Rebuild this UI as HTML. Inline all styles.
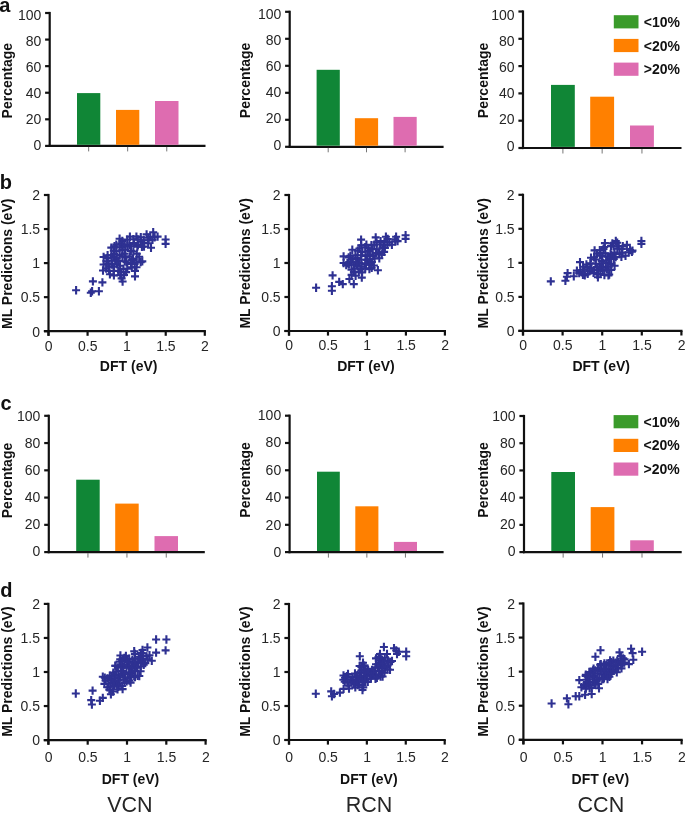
<!DOCTYPE html>
<html><head><meta charset="utf-8"><style>
html,body{margin:0;padding:0;background:#fff;}
svg{display:block;font-family:"Liberation Sans",sans-serif;will-change:transform;}
</style></head><body>
<svg width="685" height="813" viewBox="0 0 685 813">
<defs><path id="pl" d="M-4,-1.05H4V1.05H-4Z M-1.05,-4.2H1.05V4.2H-1.05Z" fill="#2E3192"/></defs>
<rect width="685" height="813" fill="#fff"/>
<line x1="49.70" y1="11.90" x2="49.70" y2="147.00" stroke="#111" stroke-width="2.2"/>
<line x1="48.60" y1="145.90" x2="205.50" y2="145.90" stroke="#111" stroke-width="2.2"/>
<line x1="45.10" y1="145.90" x2="49.70" y2="145.90" stroke="#111" stroke-width="2.2"/>
<text x="41.30" y="149.81" font-size="14" text-anchor="end" fill="#262626">0</text>
<line x1="45.10" y1="119.32" x2="49.70" y2="119.32" stroke="#111" stroke-width="2.2"/>
<text x="41.30" y="123.75" font-size="14" text-anchor="end" fill="#262626">20</text>
<line x1="45.10" y1="92.74" x2="49.70" y2="92.74" stroke="#111" stroke-width="2.2"/>
<text x="41.30" y="97.69" font-size="14" text-anchor="end" fill="#262626">40</text>
<line x1="45.10" y1="66.16" x2="49.70" y2="66.16" stroke="#111" stroke-width="2.2"/>
<text x="41.30" y="71.63" font-size="14" text-anchor="end" fill="#262626">60</text>
<line x1="45.10" y1="39.58" x2="49.70" y2="39.58" stroke="#111" stroke-width="2.2"/>
<text x="41.30" y="45.57" font-size="14" text-anchor="end" fill="#262626">80</text>
<line x1="45.10" y1="13.00" x2="49.70" y2="13.00" stroke="#111" stroke-width="2.2"/>
<text x="41.30" y="19.51" font-size="14" text-anchor="end" fill="#262626">100</text>
<rect x="77.00" y="93.10" width="23.30" height="51.70" fill="#108636"/>
<line x1="88.65" y1="146.90" x2="88.65" y2="151.40" stroke="#666" stroke-width="0.9"/>
<rect x="116.00" y="109.90" width="23.30" height="34.90" fill="#FF8000"/>
<line x1="127.65" y1="146.90" x2="127.65" y2="151.40" stroke="#666" stroke-width="0.9"/>
<rect x="155.00" y="101.00" width="23.50" height="43.80" fill="#DE6CB0"/>
<line x1="166.75" y1="146.90" x2="166.75" y2="151.40" stroke="#666" stroke-width="0.9"/>
<text x="12.00" y="80.70" font-size="14" text-anchor="middle" font-weight="bold" transform="rotate(-90 12.00 80.70)" fill="#111">Percentage</text>
<line x1="289.70" y1="10.70" x2="289.70" y2="147.90" stroke="#111" stroke-width="2.2"/>
<line x1="288.60" y1="146.80" x2="443.60" y2="146.80" stroke="#111" stroke-width="2.2"/>
<line x1="285.10" y1="146.80" x2="289.70" y2="146.80" stroke="#111" stroke-width="2.2"/>
<text x="281.30" y="149.51" font-size="14" text-anchor="end" fill="#262626">0</text>
<line x1="285.10" y1="119.80" x2="289.70" y2="119.80" stroke="#111" stroke-width="2.2"/>
<text x="281.30" y="123.37" font-size="14" text-anchor="end" fill="#262626">20</text>
<line x1="285.10" y1="92.80" x2="289.70" y2="92.80" stroke="#111" stroke-width="2.2"/>
<text x="281.30" y="97.23" font-size="14" text-anchor="end" fill="#262626">40</text>
<line x1="285.10" y1="65.80" x2="289.70" y2="65.80" stroke="#111" stroke-width="2.2"/>
<text x="281.30" y="71.09" font-size="14" text-anchor="end" fill="#262626">60</text>
<line x1="285.10" y1="38.80" x2="289.70" y2="38.80" stroke="#111" stroke-width="2.2"/>
<text x="281.30" y="44.95" font-size="14" text-anchor="end" fill="#262626">80</text>
<line x1="285.10" y1="11.80" x2="289.70" y2="11.80" stroke="#111" stroke-width="2.2"/>
<text x="281.30" y="18.81" font-size="14" text-anchor="end" fill="#262626">100</text>
<rect x="316.60" y="69.80" width="23.20" height="75.90" fill="#108636"/>
<line x1="328.20" y1="147.80" x2="328.20" y2="152.30" stroke="#666" stroke-width="0.9"/>
<rect x="354.90" y="118.20" width="23.20" height="27.50" fill="#FF8000"/>
<line x1="366.50" y1="147.80" x2="366.50" y2="152.30" stroke="#666" stroke-width="0.9"/>
<rect x="393.50" y="116.90" width="23.20" height="28.80" fill="#DE6CB0"/>
<line x1="405.10" y1="147.80" x2="405.10" y2="152.30" stroke="#666" stroke-width="0.9"/>
<text x="250.00" y="80.45" font-size="14" text-anchor="middle" font-weight="bold" transform="rotate(-90 250.00 80.45)" fill="#111">Percentage</text>
<line x1="523.00" y1="10.40" x2="523.00" y2="149.10" stroke="#111" stroke-width="2.2"/>
<line x1="521.90" y1="148.00" x2="681.50" y2="148.00" stroke="#111" stroke-width="2.2"/>
<line x1="518.40" y1="148.00" x2="523.00" y2="148.00" stroke="#111" stroke-width="2.2"/>
<text x="514.60" y="150.61" font-size="14" text-anchor="end" fill="#262626">0</text>
<line x1="518.40" y1="120.70" x2="523.00" y2="120.70" stroke="#111" stroke-width="2.2"/>
<text x="514.60" y="124.39" font-size="14" text-anchor="end" fill="#262626">20</text>
<line x1="518.40" y1="93.40" x2="523.00" y2="93.40" stroke="#111" stroke-width="2.2"/>
<text x="514.60" y="98.17" font-size="14" text-anchor="end" fill="#262626">40</text>
<line x1="518.40" y1="66.10" x2="523.00" y2="66.10" stroke="#111" stroke-width="2.2"/>
<text x="514.60" y="71.95" font-size="14" text-anchor="end" fill="#262626">60</text>
<line x1="518.40" y1="38.80" x2="523.00" y2="38.80" stroke="#111" stroke-width="2.2"/>
<text x="514.60" y="45.73" font-size="14" text-anchor="end" fill="#262626">80</text>
<line x1="518.40" y1="11.50" x2="523.00" y2="11.50" stroke="#111" stroke-width="2.2"/>
<text x="514.60" y="19.51" font-size="14" text-anchor="end" fill="#262626">100</text>
<rect x="551.00" y="84.90" width="23.80" height="62.00" fill="#108636"/>
<line x1="562.90" y1="149.00" x2="562.90" y2="153.50" stroke="#666" stroke-width="0.9"/>
<rect x="590.20" y="96.70" width="23.90" height="50.20" fill="#FF8000"/>
<line x1="602.15" y1="149.00" x2="602.15" y2="153.50" stroke="#666" stroke-width="0.9"/>
<rect x="630.00" y="125.50" width="23.90" height="21.40" fill="#DE6CB0"/>
<line x1="641.95" y1="149.00" x2="641.95" y2="153.50" stroke="#666" stroke-width="0.9"/>
<text x="488.00" y="80.45" font-size="14" text-anchor="middle" font-weight="bold" transform="rotate(-90 488.00 80.45)" fill="#111">Percentage</text>
<rect x="613.80" y="15.20" width="24.70" height="13.20" fill="#3A9B2A"/>
<text x="643.80" y="26.81" font-size="14" text-anchor="start" font-weight="bold" fill="#111">&lt;10%</text>
<rect x="613.80" y="38.90" width="24.70" height="13.20" fill="#FF8000"/>
<text x="643.80" y="50.51" font-size="14" text-anchor="start" font-weight="bold" fill="#111">&lt;20%</text>
<rect x="613.80" y="62.60" width="24.70" height="13.20" fill="#DE6CB0"/>
<text x="643.80" y="74.21" font-size="14" text-anchor="start" font-weight="bold" fill="#111">&gt;20%</text>
<line x1="48.80" y1="414.70" x2="48.80" y2="553.20" stroke="#111" stroke-width="2.2"/>
<line x1="47.70" y1="552.10" x2="204.80" y2="552.10" stroke="#111" stroke-width="2.2"/>
<line x1="44.20" y1="552.10" x2="48.80" y2="552.10" stroke="#111" stroke-width="2.2"/>
<text x="40.40" y="556.21" font-size="14" text-anchor="end" fill="#262626">0</text>
<line x1="44.20" y1="524.84" x2="48.80" y2="524.84" stroke="#111" stroke-width="2.2"/>
<text x="40.40" y="529.11" font-size="14" text-anchor="end" fill="#262626">20</text>
<line x1="44.20" y1="497.58" x2="48.80" y2="497.58" stroke="#111" stroke-width="2.2"/>
<text x="40.40" y="502.01" font-size="14" text-anchor="end" fill="#262626">40</text>
<line x1="44.20" y1="470.32" x2="48.80" y2="470.32" stroke="#111" stroke-width="2.2"/>
<text x="40.40" y="474.91" font-size="14" text-anchor="end" fill="#262626">60</text>
<line x1="44.20" y1="443.06" x2="48.80" y2="443.06" stroke="#111" stroke-width="2.2"/>
<text x="40.40" y="447.81" font-size="14" text-anchor="end" fill="#262626">80</text>
<line x1="44.20" y1="415.80" x2="48.80" y2="415.80" stroke="#111" stroke-width="2.2"/>
<text x="40.40" y="420.71" font-size="14" text-anchor="end" fill="#262626">100</text>
<rect x="76.20" y="479.70" width="23.50" height="71.30" fill="#108636"/>
<line x1="87.95" y1="553.10" x2="87.95" y2="557.60" stroke="#666" stroke-width="0.9"/>
<rect x="115.20" y="503.60" width="23.50" height="47.40" fill="#FF8000"/>
<line x1="126.95" y1="553.10" x2="126.95" y2="557.60" stroke="#666" stroke-width="0.9"/>
<rect x="154.50" y="536.10" width="23.50" height="14.90" fill="#DE6CB0"/>
<line x1="166.25" y1="553.10" x2="166.25" y2="557.60" stroke="#666" stroke-width="0.9"/>
<text x="12.00" y="480.50" font-size="14" text-anchor="middle" font-weight="bold" transform="rotate(-90 12.00 480.50)" fill="#111">Percentage</text>
<line x1="289.60" y1="414.60" x2="289.60" y2="553.20" stroke="#111" stroke-width="2.2"/>
<line x1="288.50" y1="552.10" x2="443.60" y2="552.10" stroke="#111" stroke-width="2.2"/>
<line x1="285.00" y1="552.10" x2="289.60" y2="552.10" stroke="#111" stroke-width="2.2"/>
<text x="281.20" y="557.11" font-size="14" text-anchor="end" fill="#262626">0</text>
<line x1="285.00" y1="524.82" x2="289.60" y2="524.82" stroke="#111" stroke-width="2.2"/>
<text x="281.20" y="529.67" font-size="14" text-anchor="end" fill="#262626">20</text>
<line x1="285.00" y1="497.54" x2="289.60" y2="497.54" stroke="#111" stroke-width="2.2"/>
<text x="281.20" y="502.23" font-size="14" text-anchor="end" fill="#262626">40</text>
<line x1="285.00" y1="470.26" x2="289.60" y2="470.26" stroke="#111" stroke-width="2.2"/>
<text x="281.20" y="474.79" font-size="14" text-anchor="end" fill="#262626">60</text>
<line x1="285.00" y1="442.98" x2="289.60" y2="442.98" stroke="#111" stroke-width="2.2"/>
<text x="281.20" y="447.35" font-size="14" text-anchor="end" fill="#262626">80</text>
<line x1="285.00" y1="415.70" x2="289.60" y2="415.70" stroke="#111" stroke-width="2.2"/>
<text x="281.20" y="419.91" font-size="14" text-anchor="end" fill="#262626">100</text>
<rect x="317.00" y="471.70" width="22.80" height="79.30" fill="#108636"/>
<line x1="328.40" y1="553.10" x2="328.40" y2="557.60" stroke="#666" stroke-width="0.9"/>
<rect x="355.30" y="506.30" width="23.10" height="44.70" fill="#FF8000"/>
<line x1="366.85" y1="553.10" x2="366.85" y2="557.60" stroke="#666" stroke-width="0.9"/>
<rect x="393.90" y="541.90" width="23.10" height="9.10" fill="#DE6CB0"/>
<line x1="405.45" y1="553.10" x2="405.45" y2="557.60" stroke="#666" stroke-width="0.9"/>
<text x="250.00" y="479.90" font-size="14" text-anchor="middle" font-weight="bold" transform="rotate(-90 250.00 479.90)" fill="#111">Percentage</text>
<line x1="524.00" y1="414.90" x2="524.00" y2="553.20" stroke="#111" stroke-width="2.2"/>
<line x1="522.90" y1="552.10" x2="681.70" y2="552.10" stroke="#111" stroke-width="2.2"/>
<line x1="519.40" y1="552.10" x2="524.00" y2="552.10" stroke="#111" stroke-width="2.2"/>
<text x="515.60" y="555.91" font-size="14" text-anchor="end" fill="#262626">0</text>
<line x1="519.40" y1="524.88" x2="524.00" y2="524.88" stroke="#111" stroke-width="2.2"/>
<text x="515.60" y="528.97" font-size="14" text-anchor="end" fill="#262626">20</text>
<line x1="519.40" y1="497.66" x2="524.00" y2="497.66" stroke="#111" stroke-width="2.2"/>
<text x="515.60" y="502.03" font-size="14" text-anchor="end" fill="#262626">40</text>
<line x1="519.40" y1="470.44" x2="524.00" y2="470.44" stroke="#111" stroke-width="2.2"/>
<text x="515.60" y="475.09" font-size="14" text-anchor="end" fill="#262626">60</text>
<line x1="519.40" y1="443.22" x2="524.00" y2="443.22" stroke="#111" stroke-width="2.2"/>
<text x="515.60" y="448.15" font-size="14" text-anchor="end" fill="#262626">80</text>
<line x1="519.40" y1="416.00" x2="524.00" y2="416.00" stroke="#111" stroke-width="2.2"/>
<text x="515.60" y="421.21" font-size="14" text-anchor="end" fill="#262626">100</text>
<rect x="551.30" y="472.00" width="23.70" height="79.00" fill="#108636"/>
<line x1="563.15" y1="553.10" x2="563.15" y2="557.60" stroke="#666" stroke-width="0.9"/>
<rect x="590.70" y="507.10" width="23.70" height="43.90" fill="#FF8000"/>
<line x1="602.55" y1="553.10" x2="602.55" y2="557.60" stroke="#666" stroke-width="0.9"/>
<rect x="630.20" y="540.30" width="23.60" height="10.70" fill="#DE6CB0"/>
<line x1="642.00" y1="553.10" x2="642.00" y2="557.60" stroke="#666" stroke-width="0.9"/>
<text x="488.00" y="479.90" font-size="14" text-anchor="middle" font-weight="bold" transform="rotate(-90 488.00 479.90)" fill="#111">Percentage</text>
<rect x="613.60" y="415.10" width="24.70" height="13.20" fill="#3A9B2A"/>
<text x="643.60" y="426.71" font-size="14" text-anchor="start" font-weight="bold" fill="#111">&lt;10%</text>
<rect x="613.60" y="438.80" width="24.70" height="13.20" fill="#FF8000"/>
<text x="643.60" y="450.41" font-size="14" text-anchor="start" font-weight="bold" fill="#111">&lt;20%</text>
<rect x="613.60" y="462.50" width="24.70" height="13.20" fill="#DE6CB0"/>
<text x="643.60" y="474.11" font-size="14" text-anchor="start" font-weight="bold" fill="#111">&gt;20%</text>
<line x1="48.50" y1="193.90" x2="48.50" y2="335.80" stroke="#111" stroke-width="2.2"/>
<line x1="43.90" y1="331.20" x2="205.90" y2="331.20" stroke="#111" stroke-width="2.2"/>
<line x1="43.90" y1="331.20" x2="48.50" y2="331.20" stroke="#111" stroke-width="2.2"/>
<text x="40.10" y="336.51" font-size="14" text-anchor="end" fill="#262626">0</text>
<line x1="48.50" y1="331.20" x2="48.50" y2="335.80" stroke="#111" stroke-width="2.2"/>
<text x="48.70" y="350.52" font-size="14" text-anchor="middle" fill="#262626">0</text>
<line x1="43.90" y1="297.15" x2="48.50" y2="297.15" stroke="#111" stroke-width="2.2"/>
<text x="40.10" y="302.46" font-size="14" text-anchor="end" fill="#262626">0.5</text>
<line x1="87.58" y1="331.20" x2="87.58" y2="335.80" stroke="#111" stroke-width="2.2"/>
<text x="87.78" y="350.52" font-size="14" text-anchor="middle" fill="#262626">0.5</text>
<line x1="43.90" y1="263.10" x2="48.50" y2="263.10" stroke="#111" stroke-width="2.2"/>
<text x="40.10" y="268.41" font-size="14" text-anchor="end" fill="#262626">1</text>
<line x1="126.65" y1="331.20" x2="126.65" y2="335.80" stroke="#111" stroke-width="2.2"/>
<text x="126.85" y="350.52" font-size="14" text-anchor="middle" fill="#262626">1</text>
<line x1="43.90" y1="229.05" x2="48.50" y2="229.05" stroke="#111" stroke-width="2.2"/>
<text x="40.10" y="234.36" font-size="14" text-anchor="end" fill="#262626">1.5</text>
<line x1="165.73" y1="331.20" x2="165.73" y2="335.80" stroke="#111" stroke-width="2.2"/>
<text x="165.93" y="350.52" font-size="14" text-anchor="middle" fill="#262626">1.5</text>
<line x1="43.90" y1="195.00" x2="48.50" y2="195.00" stroke="#111" stroke-width="2.2"/>
<text x="40.10" y="200.31" font-size="14" text-anchor="end" fill="#262626">2</text>
<line x1="204.80" y1="331.20" x2="204.80" y2="335.80" stroke="#111" stroke-width="2.2"/>
<text x="205.00" y="350.52" font-size="14" text-anchor="middle" fill="#262626">2</text>
<text x="12.00" y="263.80" font-size="14" text-anchor="middle" font-weight="bold" transform="rotate(-90 12.00 263.80)" fill="#111">ML Predictions (eV)</text>
<text x="128.65" y="371.40" font-size="14" text-anchor="middle" font-weight="bold" fill="#111">DFT (eV)</text>
<use href="#pl" x="76.1" y="290.3"/>
<use href="#pl" x="92.9" y="281.4"/>
<use href="#pl" x="102.4" y="282.4"/>
<use href="#pl" x="90.8" y="292.7"/>
<use href="#pl" x="92.1" y="291.2"/>
<use href="#pl" x="98.9" y="291.2"/>
<use href="#pl" x="122.6" y="281.5"/>
<use href="#pl" x="135.0" y="276.4"/>
<use href="#pl" x="119.6" y="238.8"/>
<use href="#pl" x="165.6" y="239.5"/>
<use href="#pl" x="165.6" y="243.9"/>
<use href="#pl" x="153.2" y="232.2"/>
<use href="#pl" x="157.6" y="236.6"/>
<use href="#pl" x="151.0" y="247.8"/>
<use href="#pl" x="142.3" y="261.4"/>
<use href="#pl" x="103.6" y="257.0"/>
<use href="#pl" x="129.9" y="236.6"/>
<use href="#pl" x="136.4" y="236.6"/>
<use href="#pl" x="140.8" y="237.3"/>
<use href="#pl" x="146.6" y="234.4"/>
<use href="#pl" x="148.3" y="237.7"/>
<use href="#pl" x="150.3" y="237.0"/>
<use href="#pl" x="154.6" y="237.3"/>
<use href="#pl" x="122.3" y="240.9"/>
<use href="#pl" x="127.2" y="239.6"/>
<use href="#pl" x="133.4" y="239.2"/>
<use href="#pl" x="137.7" y="239.4"/>
<use href="#pl" x="141.1" y="241.4"/>
<use href="#pl" x="143.7" y="240.2"/>
<use href="#pl" x="148.4" y="240.2"/>
<use href="#pl" x="152.5" y="239.7"/>
<use href="#pl" x="116.3" y="244.6"/>
<use href="#pl" x="121.2" y="243.2"/>
<use href="#pl" x="124.7" y="244.5"/>
<use href="#pl" x="129.4" y="244.7"/>
<use href="#pl" x="134.1" y="243.1"/>
<use href="#pl" x="137.9" y="245.1"/>
<use href="#pl" x="143.3" y="243.1"/>
<use href="#pl" x="148.2" y="243.2"/>
<use href="#pl" x="111.3" y="247.6"/>
<use href="#pl" x="114.5" y="246.2"/>
<use href="#pl" x="119.8" y="247.4"/>
<use href="#pl" x="122.7" y="246.4"/>
<use href="#pl" x="127.5" y="246.1"/>
<use href="#pl" x="131.1" y="246.2"/>
<use href="#pl" x="137.4" y="246.6"/>
<use href="#pl" x="141.9" y="246.8"/>
<use href="#pl" x="144.0" y="246.6"/>
<use href="#pl" x="113.8" y="250.6"/>
<use href="#pl" x="116.3" y="251.2"/>
<use href="#pl" x="122.2" y="250.0"/>
<use href="#pl" x="125.4" y="249.8"/>
<use href="#pl" x="130.9" y="250.9"/>
<use href="#pl" x="133.4" y="251.5"/>
<use href="#pl" x="107.6" y="255.2"/>
<use href="#pl" x="111.4" y="255.4"/>
<use href="#pl" x="114.2" y="253.9"/>
<use href="#pl" x="119.6" y="255.0"/>
<use href="#pl" x="124.4" y="253.7"/>
<use href="#pl" x="136.8" y="253.8"/>
<use href="#pl" x="107.5" y="258.1"/>
<use href="#pl" x="113.8" y="257.1"/>
<use href="#pl" x="116.6" y="258.8"/>
<use href="#pl" x="122.5" y="256.7"/>
<use href="#pl" x="125.5" y="257.3"/>
<use href="#pl" x="129.6" y="256.4"/>
<use href="#pl" x="133.0" y="258.5"/>
<use href="#pl" x="139.2" y="256.8"/>
<use href="#pl" x="106.5" y="261.2"/>
<use href="#pl" x="111.7" y="260.7"/>
<use href="#pl" x="115.2" y="260.5"/>
<use href="#pl" x="118.3" y="260.9"/>
<use href="#pl" x="124.8" y="261.3"/>
<use href="#pl" x="126.5" y="262.2"/>
<use href="#pl" x="132.1" y="260.0"/>
<use href="#pl" x="136.8" y="262.2"/>
<use href="#pl" x="140.7" y="262.1"/>
<use href="#pl" x="103.6" y="264.5"/>
<use href="#pl" x="108.2" y="263.5"/>
<use href="#pl" x="112.0" y="264.5"/>
<use href="#pl" x="116.8" y="264.2"/>
<use href="#pl" x="120.1" y="265.7"/>
<use href="#pl" x="131.0" y="264.0"/>
<use href="#pl" x="134.6" y="264.0"/>
<use href="#pl" x="106.2" y="268.6"/>
<use href="#pl" x="109.3" y="266.6"/>
<use href="#pl" x="114.0" y="266.8"/>
<use href="#pl" x="123.4" y="268.9"/>
<use href="#pl" x="127.3" y="268.8"/>
<use href="#pl" x="131.8" y="267.4"/>
<use href="#pl" x="136.5" y="267.2"/>
<use href="#pl" x="103.0" y="270.5"/>
<use href="#pl" x="109.1" y="270.9"/>
<use href="#pl" x="113.6" y="271.0"/>
<use href="#pl" x="118.2" y="270.7"/>
<use href="#pl" x="120.9" y="272.2"/>
<use href="#pl" x="126.1" y="272.1"/>
<use href="#pl" x="135.0" y="270.9"/>
<use href="#pl" x="109.9" y="274.3"/>
<use href="#pl" x="113.9" y="275.4"/>
<use href="#pl" x="120.2" y="275.2"/>
<use href="#pl" x="124.0" y="274.9"/>
<use href="#pl" x="121.6" y="278.4"/>
<line x1="289.00" y1="193.90" x2="289.00" y2="335.60" stroke="#111" stroke-width="2.2"/>
<line x1="284.40" y1="331.00" x2="446.00" y2="331.00" stroke="#111" stroke-width="2.2"/>
<line x1="284.40" y1="331.00" x2="289.00" y2="331.00" stroke="#111" stroke-width="2.2"/>
<text x="280.60" y="336.31" font-size="14" text-anchor="end" fill="#262626">0</text>
<line x1="289.00" y1="331.00" x2="289.00" y2="335.60" stroke="#111" stroke-width="2.2"/>
<text x="289.20" y="350.32" font-size="14" text-anchor="middle" fill="#262626">0</text>
<line x1="284.40" y1="297.00" x2="289.00" y2="297.00" stroke="#111" stroke-width="2.2"/>
<text x="280.60" y="302.31" font-size="14" text-anchor="end" fill="#262626">0.5</text>
<line x1="327.98" y1="331.00" x2="327.98" y2="335.60" stroke="#111" stroke-width="2.2"/>
<text x="328.18" y="350.32" font-size="14" text-anchor="middle" fill="#262626">0.5</text>
<line x1="284.40" y1="263.00" x2="289.00" y2="263.00" stroke="#111" stroke-width="2.2"/>
<text x="280.60" y="268.31" font-size="14" text-anchor="end" fill="#262626">1</text>
<line x1="366.95" y1="331.00" x2="366.95" y2="335.60" stroke="#111" stroke-width="2.2"/>
<text x="367.15" y="350.32" font-size="14" text-anchor="middle" fill="#262626">1</text>
<line x1="284.40" y1="229.00" x2="289.00" y2="229.00" stroke="#111" stroke-width="2.2"/>
<text x="280.60" y="234.31" font-size="14" text-anchor="end" fill="#262626">1.5</text>
<line x1="405.92" y1="331.00" x2="405.92" y2="335.60" stroke="#111" stroke-width="2.2"/>
<text x="406.12" y="350.32" font-size="14" text-anchor="middle" fill="#262626">1.5</text>
<line x1="284.40" y1="195.00" x2="289.00" y2="195.00" stroke="#111" stroke-width="2.2"/>
<text x="280.60" y="200.31" font-size="14" text-anchor="end" fill="#262626">2</text>
<line x1="444.90" y1="331.00" x2="444.90" y2="335.60" stroke="#111" stroke-width="2.2"/>
<text x="445.10" y="350.32" font-size="14" text-anchor="middle" fill="#262626">2</text>
<text x="250.00" y="263.35" font-size="14" text-anchor="middle" font-weight="bold" transform="rotate(-90 250.00 263.35)" fill="#111">ML Predictions (eV)</text>
<text x="365.95" y="371.20" font-size="14" text-anchor="middle" font-weight="bold" fill="#111">DFT (eV)</text>
<use href="#pl" x="316.1" y="287.8"/>
<use href="#pl" x="331.9" y="286.3"/>
<use href="#pl" x="331.9" y="290.7"/>
<use href="#pl" x="332.6" y="275.4"/>
<use href="#pl" x="339.2" y="281.9"/>
<use href="#pl" x="342.8" y="284.1"/>
<use href="#pl" x="353.8" y="284.1"/>
<use href="#pl" x="349.4" y="279.0"/>
<use href="#pl" x="361.1" y="239.6"/>
<use href="#pl" x="375.7" y="237.4"/>
<use href="#pl" x="385.9" y="236.7"/>
<use href="#pl" x="396.1" y="236.7"/>
<use href="#pl" x="405.6" y="235.2"/>
<use href="#pl" x="405.6" y="238.9"/>
<use href="#pl" x="397.6" y="241.1"/>
<use href="#pl" x="377.9" y="270.3"/>
<use href="#pl" x="361.8" y="277.6"/>
<use href="#pl" x="343.6" y="256.4"/>
<use href="#pl" x="343.6" y="263.0"/>
<use href="#pl" x="352.3" y="249.8"/>
<use href="#pl" x="387.7" y="239.0"/>
<use href="#pl" x="395.3" y="239.2"/>
<use href="#pl" x="376.6" y="242.4"/>
<use href="#pl" x="380.6" y="241.1"/>
<use href="#pl" x="384.6" y="242.0"/>
<use href="#pl" x="389.5" y="242.2"/>
<use href="#pl" x="395.4" y="241.3"/>
<use href="#pl" x="361.2" y="245.4"/>
<use href="#pl" x="366.4" y="244.7"/>
<use href="#pl" x="371.4" y="245.1"/>
<use href="#pl" x="374.3" y="244.8"/>
<use href="#pl" x="380.1" y="244.5"/>
<use href="#pl" x="383.7" y="244.8"/>
<use href="#pl" x="387.3" y="244.8"/>
<use href="#pl" x="391.9" y="244.7"/>
<use href="#pl" x="359.4" y="248.5"/>
<use href="#pl" x="365.2" y="247.3"/>
<use href="#pl" x="368.5" y="248.3"/>
<use href="#pl" x="372.5" y="249.0"/>
<use href="#pl" x="376.8" y="249.3"/>
<use href="#pl" x="382.3" y="247.6"/>
<use href="#pl" x="384.9" y="247.9"/>
<use href="#pl" x="357.7" y="250.7"/>
<use href="#pl" x="362.3" y="251.9"/>
<use href="#pl" x="367.7" y="251.8"/>
<use href="#pl" x="369.5" y="250.9"/>
<use href="#pl" x="375.9" y="253.1"/>
<use href="#pl" x="379.1" y="252.6"/>
<use href="#pl" x="384.1" y="251.9"/>
<use href="#pl" x="350.4" y="255.8"/>
<use href="#pl" x="355.4" y="255.3"/>
<use href="#pl" x="361.1" y="255.2"/>
<use href="#pl" x="365.4" y="255.9"/>
<use href="#pl" x="369.8" y="254.4"/>
<use href="#pl" x="373.2" y="256.0"/>
<use href="#pl" x="378.5" y="254.1"/>
<use href="#pl" x="381.8" y="254.8"/>
<use href="#pl" x="348.7" y="257.5"/>
<use href="#pl" x="352.8" y="259.1"/>
<use href="#pl" x="357.3" y="257.9"/>
<use href="#pl" x="361.3" y="259.7"/>
<use href="#pl" x="367.0" y="259.7"/>
<use href="#pl" x="369.5" y="259.2"/>
<use href="#pl" x="374.6" y="258.5"/>
<use href="#pl" x="379.3" y="258.2"/>
<use href="#pl" x="347.4" y="263.3"/>
<use href="#pl" x="351.0" y="262.1"/>
<use href="#pl" x="356.1" y="262.8"/>
<use href="#pl" x="359.0" y="262.6"/>
<use href="#pl" x="365.2" y="263.2"/>
<use href="#pl" x="369.4" y="262.4"/>
<use href="#pl" x="371.9" y="262.1"/>
<use href="#pl" x="346.2" y="265.1"/>
<use href="#pl" x="348.9" y="264.6"/>
<use href="#pl" x="353.8" y="264.6"/>
<use href="#pl" x="357.0" y="265.4"/>
<use href="#pl" x="361.3" y="266.7"/>
<use href="#pl" x="366.0" y="264.8"/>
<use href="#pl" x="369.7" y="264.7"/>
<use href="#pl" x="373.9" y="265.5"/>
<use href="#pl" x="351.5" y="269.8"/>
<use href="#pl" x="354.7" y="268.5"/>
<use href="#pl" x="360.5" y="269.4"/>
<use href="#pl" x="365.2" y="268.3"/>
<use href="#pl" x="369.4" y="269.1"/>
<use href="#pl" x="371.7" y="267.8"/>
<use href="#pl" x="353.9" y="272.1"/>
<use href="#pl" x="358.8" y="271.9"/>
<use href="#pl" x="362.1" y="272.4"/>
<use href="#pl" x="351.6" y="274.9"/>
<use href="#pl" x="355.6" y="275.7"/>
<line x1="523.00" y1="193.70" x2="523.00" y2="335.50" stroke="#111" stroke-width="2.2"/>
<line x1="518.40" y1="330.90" x2="682.50" y2="330.90" stroke="#111" stroke-width="2.2"/>
<line x1="518.40" y1="330.90" x2="523.00" y2="330.90" stroke="#111" stroke-width="2.2"/>
<text x="514.60" y="336.21" font-size="14" text-anchor="end" fill="#262626">0</text>
<line x1="523.00" y1="330.90" x2="523.00" y2="335.50" stroke="#111" stroke-width="2.2"/>
<text x="523.20" y="350.22" font-size="14" text-anchor="middle" fill="#262626">0</text>
<line x1="518.40" y1="296.88" x2="523.00" y2="296.88" stroke="#111" stroke-width="2.2"/>
<text x="514.60" y="302.19" font-size="14" text-anchor="end" fill="#262626">0.5</text>
<line x1="562.60" y1="330.90" x2="562.60" y2="335.50" stroke="#111" stroke-width="2.2"/>
<text x="562.80" y="350.22" font-size="14" text-anchor="middle" fill="#262626">0.5</text>
<line x1="518.40" y1="262.85" x2="523.00" y2="262.85" stroke="#111" stroke-width="2.2"/>
<text x="514.60" y="268.16" font-size="14" text-anchor="end" fill="#262626">1</text>
<line x1="602.20" y1="330.90" x2="602.20" y2="335.50" stroke="#111" stroke-width="2.2"/>
<text x="602.40" y="350.22" font-size="14" text-anchor="middle" fill="#262626">1</text>
<line x1="518.40" y1="228.82" x2="523.00" y2="228.82" stroke="#111" stroke-width="2.2"/>
<text x="514.60" y="234.14" font-size="14" text-anchor="end" fill="#262626">1.5</text>
<line x1="641.80" y1="330.90" x2="641.80" y2="335.50" stroke="#111" stroke-width="2.2"/>
<text x="642.00" y="350.22" font-size="14" text-anchor="middle" fill="#262626">1.5</text>
<line x1="518.40" y1="194.80" x2="523.00" y2="194.80" stroke="#111" stroke-width="2.2"/>
<text x="514.60" y="200.11" font-size="14" text-anchor="end" fill="#262626">2</text>
<line x1="681.40" y1="330.90" x2="681.40" y2="335.50" stroke="#111" stroke-width="2.2"/>
<text x="681.60" y="350.22" font-size="14" text-anchor="middle" fill="#262626">2</text>
<text x="488.00" y="263.20" font-size="14" text-anchor="middle" font-weight="bold" transform="rotate(-90 488.00 263.20)" fill="#111">ML Predictions (eV)</text>
<text x="601.20" y="371.10" font-size="14" text-anchor="middle" font-weight="bold" fill="#111">DFT (eV)</text>
<use href="#pl" x="550.8" y="281.4"/>
<use href="#pl" x="565.4" y="280.8"/>
<use href="#pl" x="566.9" y="276.7"/>
<use href="#pl" x="567.6" y="273.1"/>
<use href="#pl" x="641.4" y="241.0"/>
<use href="#pl" x="641.4" y="243.9"/>
<use href="#pl" x="609.2" y="274.5"/>
<use href="#pl" x="580.0" y="262.1"/>
<use href="#pl" x="591.0" y="257.7"/>
<use href="#pl" x="604.9" y="243.1"/>
<use href="#pl" x="615.8" y="241.0"/>
<use href="#pl" x="594.6" y="250.4"/>
<use href="#pl" x="573.8" y="276.3"/>
<use href="#pl" x="584.8" y="275.4"/>
<use href="#pl" x="597.9" y="277.2"/>
<use href="#pl" x="608.4" y="275.4"/>
<use href="#pl" x="632.5" y="250.6"/>
<use href="#pl" x="612.4" y="243.4"/>
<use href="#pl" x="617.2" y="242.7"/>
<use href="#pl" x="604.4" y="247.0"/>
<use href="#pl" x="611.0" y="246.0"/>
<use href="#pl" x="613.5" y="246.4"/>
<use href="#pl" x="618.8" y="246.4"/>
<use href="#pl" x="622.8" y="246.1"/>
<use href="#pl" x="626.9" y="244.9"/>
<use href="#pl" x="599.8" y="250.3"/>
<use href="#pl" x="603.5" y="249.0"/>
<use href="#pl" x="617.3" y="248.7"/>
<use href="#pl" x="621.9" y="248.9"/>
<use href="#pl" x="630.0" y="250.1"/>
<use href="#pl" x="597.0" y="253.6"/>
<use href="#pl" x="600.5" y="253.0"/>
<use href="#pl" x="605.3" y="253.2"/>
<use href="#pl" x="610.6" y="253.9"/>
<use href="#pl" x="614.5" y="252.6"/>
<use href="#pl" x="619.6" y="254.0"/>
<use href="#pl" x="622.3" y="252.6"/>
<use href="#pl" x="628.7" y="252.3"/>
<use href="#pl" x="631.9" y="251.7"/>
<use href="#pl" x="594.1" y="257.4"/>
<use href="#pl" x="600.0" y="255.4"/>
<use href="#pl" x="602.4" y="256.0"/>
<use href="#pl" x="607.4" y="256.8"/>
<use href="#pl" x="611.1" y="255.2"/>
<use href="#pl" x="615.7" y="257.1"/>
<use href="#pl" x="621.4" y="256.8"/>
<use href="#pl" x="625.5" y="255.7"/>
<use href="#pl" x="595.8" y="259.5"/>
<use href="#pl" x="601.7" y="261.1"/>
<use href="#pl" x="606.3" y="260.5"/>
<use href="#pl" x="609.2" y="258.9"/>
<use href="#pl" x="613.8" y="259.0"/>
<use href="#pl" x="586.4" y="264.5"/>
<use href="#pl" x="590.3" y="263.2"/>
<use href="#pl" x="595.5" y="263.8"/>
<use href="#pl" x="599.6" y="264.6"/>
<use href="#pl" x="603.2" y="263.2"/>
<use href="#pl" x="608.3" y="262.9"/>
<use href="#pl" x="611.1" y="264.1"/>
<use href="#pl" x="583.1" y="266.8"/>
<use href="#pl" x="587.4" y="266.9"/>
<use href="#pl" x="591.5" y="268.0"/>
<use href="#pl" x="597.0" y="267.4"/>
<use href="#pl" x="601.0" y="267.8"/>
<use href="#pl" x="605.8" y="266.7"/>
<use href="#pl" x="608.7" y="266.6"/>
<use href="#pl" x="614.6" y="265.8"/>
<use href="#pl" x="576.9" y="270.6"/>
<use href="#pl" x="580.2" y="271.2"/>
<use href="#pl" x="584.7" y="269.6"/>
<use href="#pl" x="589.4" y="271.2"/>
<use href="#pl" x="594.1" y="270.1"/>
<use href="#pl" x="598.5" y="270.0"/>
<use href="#pl" x="602.7" y="270.8"/>
<use href="#pl" x="606.9" y="269.4"/>
<use href="#pl" x="611.2" y="269.9"/>
<use href="#pl" x="579.2" y="273.1"/>
<use href="#pl" x="582.9" y="274.8"/>
<use href="#pl" x="587.7" y="273.7"/>
<use href="#pl" x="593.5" y="272.9"/>
<use href="#pl" x="597.2" y="274.5"/>
<use href="#pl" x="600.4" y="273.8"/>
<use href="#pl" x="604.4" y="275.0"/>
<line x1="48.40" y1="602.80" x2="48.40" y2="744.70" stroke="#111" stroke-width="2.2"/>
<line x1="43.80" y1="740.10" x2="206.70" y2="740.10" stroke="#111" stroke-width="2.2"/>
<line x1="43.80" y1="740.10" x2="48.40" y2="740.10" stroke="#111" stroke-width="2.2"/>
<text x="40.00" y="745.41" font-size="14" text-anchor="end" fill="#262626">0</text>
<line x1="48.40" y1="740.10" x2="48.40" y2="744.70" stroke="#111" stroke-width="2.2"/>
<text x="48.60" y="762.12" font-size="14" text-anchor="middle" fill="#262626">0</text>
<line x1="43.80" y1="706.05" x2="48.40" y2="706.05" stroke="#111" stroke-width="2.2"/>
<text x="40.00" y="711.36" font-size="14" text-anchor="end" fill="#262626">0.5</text>
<line x1="87.70" y1="740.10" x2="87.70" y2="744.70" stroke="#111" stroke-width="2.2"/>
<text x="87.90" y="762.12" font-size="14" text-anchor="middle" fill="#262626">0.5</text>
<line x1="43.80" y1="672.00" x2="48.40" y2="672.00" stroke="#111" stroke-width="2.2"/>
<text x="40.00" y="677.31" font-size="14" text-anchor="end" fill="#262626">1</text>
<line x1="127.00" y1="740.10" x2="127.00" y2="744.70" stroke="#111" stroke-width="2.2"/>
<text x="127.20" y="762.12" font-size="14" text-anchor="middle" fill="#262626">1</text>
<line x1="43.80" y1="637.95" x2="48.40" y2="637.95" stroke="#111" stroke-width="2.2"/>
<text x="40.00" y="643.26" font-size="14" text-anchor="end" fill="#262626">1.5</text>
<line x1="166.30" y1="740.10" x2="166.30" y2="744.70" stroke="#111" stroke-width="2.2"/>
<text x="166.50" y="762.12" font-size="14" text-anchor="middle" fill="#262626">1.5</text>
<line x1="43.80" y1="603.90" x2="48.40" y2="603.90" stroke="#111" stroke-width="2.2"/>
<text x="40.00" y="609.21" font-size="14" text-anchor="end" fill="#262626">2</text>
<line x1="205.60" y1="740.10" x2="205.60" y2="744.70" stroke="#111" stroke-width="2.2"/>
<text x="205.80" y="762.12" font-size="14" text-anchor="middle" fill="#262626">2</text>
<text x="12.00" y="671.60" font-size="14" text-anchor="middle" font-weight="bold" transform="rotate(-90 12.00 671.60)" fill="#111">ML Predictions (eV)</text>
<text x="130.50" y="784.40" font-size="14" text-anchor="middle" font-weight="bold" fill="#111">DFT (eV)</text>
<use href="#pl" x="75.8" y="693.5"/>
<use href="#pl" x="92.6" y="690.6"/>
<use href="#pl" x="91.2" y="700.1"/>
<use href="#pl" x="91.9" y="704.5"/>
<use href="#pl" x="99.9" y="700.8"/>
<use href="#pl" x="102.8" y="697.9"/>
<use href="#pl" x="156.1" y="639.5"/>
<use href="#pl" x="166.4" y="639.5"/>
<use href="#pl" x="165.6" y="650.4"/>
<use href="#pl" x="156.1" y="652.6"/>
<use href="#pl" x="147.4" y="647.5"/>
<use href="#pl" x="151.8" y="660.7"/>
<use href="#pl" x="139.3" y="676.0"/>
<use href="#pl" x="130.6" y="682.6"/>
<use href="#pl" x="122.6" y="689.1"/>
<use href="#pl" x="110.9" y="694.2"/>
<use href="#pl" x="102.8" y="676.7"/>
<use href="#pl" x="115.3" y="665.8"/>
<use href="#pl" x="120.4" y="655.5"/>
<use href="#pl" x="134.2" y="651.2"/>
<use href="#pl" x="142.5" y="650.0"/>
<use href="#pl" x="134.9" y="653.9"/>
<use href="#pl" x="140.9" y="652.9"/>
<use href="#pl" x="142.9" y="653.3"/>
<use href="#pl" x="125.9" y="655.9"/>
<use href="#pl" x="138.8" y="656.8"/>
<use href="#pl" x="142.0" y="655.5"/>
<use href="#pl" x="146.6" y="656.4"/>
<use href="#pl" x="149.5" y="655.2"/>
<use href="#pl" x="120.2" y="659.3"/>
<use href="#pl" x="124.4" y="657.9"/>
<use href="#pl" x="129.2" y="658.8"/>
<use href="#pl" x="132.4" y="659.7"/>
<use href="#pl" x="134.9" y="658.3"/>
<use href="#pl" x="140.1" y="659.7"/>
<use href="#pl" x="143.1" y="659.1"/>
<use href="#pl" x="147.5" y="659.3"/>
<use href="#pl" x="119.6" y="661.6"/>
<use href="#pl" x="122.3" y="660.9"/>
<use href="#pl" x="127.1" y="661.4"/>
<use href="#pl" x="128.9" y="662.1"/>
<use href="#pl" x="134.1" y="662.9"/>
<use href="#pl" x="138.3" y="661.5"/>
<use href="#pl" x="141.9" y="661.4"/>
<use href="#pl" x="145.3" y="663.1"/>
<use href="#pl" x="115.6" y="665.9"/>
<use href="#pl" x="120.8" y="665.6"/>
<use href="#pl" x="124.4" y="664.5"/>
<use href="#pl" x="129.1" y="665.9"/>
<use href="#pl" x="131.5" y="665.9"/>
<use href="#pl" x="135.0" y="665.1"/>
<use href="#pl" x="140.8" y="666.5"/>
<use href="#pl" x="143.7" y="664.8"/>
<use href="#pl" x="117.9" y="667.4"/>
<use href="#pl" x="123.1" y="667.2"/>
<use href="#pl" x="126.5" y="667.8"/>
<use href="#pl" x="131.2" y="668.4"/>
<use href="#pl" x="134.5" y="668.4"/>
<use href="#pl" x="137.1" y="667.6"/>
<use href="#pl" x="113.3" y="672.6"/>
<use href="#pl" x="116.3" y="671.2"/>
<use href="#pl" x="121.0" y="670.9"/>
<use href="#pl" x="123.3" y="672.1"/>
<use href="#pl" x="129.2" y="672.5"/>
<use href="#pl" x="132.1" y="671.4"/>
<use href="#pl" x="135.3" y="670.9"/>
<use href="#pl" x="140.6" y="671.3"/>
<use href="#pl" x="109.8" y="675.7"/>
<use href="#pl" x="114.8" y="675.1"/>
<use href="#pl" x="118.3" y="675.4"/>
<use href="#pl" x="122.6" y="674.3"/>
<use href="#pl" x="125.0" y="674.2"/>
<use href="#pl" x="130.4" y="673.4"/>
<use href="#pl" x="134.2" y="675.8"/>
<use href="#pl" x="137.7" y="675.7"/>
<use href="#pl" x="104.8" y="677.8"/>
<use href="#pl" x="107.6" y="678.4"/>
<use href="#pl" x="111.6" y="676.8"/>
<use href="#pl" x="115.7" y="678.4"/>
<use href="#pl" x="120.0" y="677.3"/>
<use href="#pl" x="123.9" y="677.2"/>
<use href="#pl" x="127.6" y="678.0"/>
<use href="#pl" x="131.3" y="676.7"/>
<use href="#pl" x="135.0" y="677.1"/>
<use href="#pl" x="105.7" y="680.8"/>
<use href="#pl" x="110.7" y="679.9"/>
<use href="#pl" x="113.9" y="681.6"/>
<use href="#pl" x="118.2" y="680.5"/>
<use href="#pl" x="123.5" y="679.7"/>
<use href="#pl" x="126.7" y="681.3"/>
<use href="#pl" x="129.4" y="680.6"/>
<use href="#pl" x="104.4" y="683.9"/>
<use href="#pl" x="108.6" y="683.8"/>
<use href="#pl" x="112.3" y="683.0"/>
<use href="#pl" x="117.2" y="684.8"/>
<use href="#pl" x="119.6" y="683.5"/>
<use href="#pl" x="124.5" y="682.9"/>
<use href="#pl" x="107.4" y="687.2"/>
<use href="#pl" x="110.5" y="686.8"/>
<use href="#pl" x="114.0" y="686.1"/>
<use href="#pl" x="118.2" y="686.7"/>
<use href="#pl" x="122.2" y="686.0"/>
<use href="#pl" x="109.3" y="689.6"/>
<use href="#pl" x="113.0" y="691.5"/>
<use href="#pl" x="117.5" y="689.4"/>
<line x1="289.00" y1="602.90" x2="289.00" y2="744.60" stroke="#111" stroke-width="2.2"/>
<line x1="284.40" y1="740.00" x2="445.80" y2="740.00" stroke="#111" stroke-width="2.2"/>
<line x1="284.40" y1="740.00" x2="289.00" y2="740.00" stroke="#111" stroke-width="2.2"/>
<text x="280.60" y="745.31" font-size="14" text-anchor="end" fill="#262626">0</text>
<line x1="289.00" y1="740.00" x2="289.00" y2="744.60" stroke="#111" stroke-width="2.2"/>
<text x="289.20" y="762.02" font-size="14" text-anchor="middle" fill="#262626">0</text>
<line x1="284.40" y1="706.00" x2="289.00" y2="706.00" stroke="#111" stroke-width="2.2"/>
<text x="280.60" y="711.31" font-size="14" text-anchor="end" fill="#262626">0.5</text>
<line x1="327.93" y1="740.00" x2="327.93" y2="744.60" stroke="#111" stroke-width="2.2"/>
<text x="328.12" y="762.02" font-size="14" text-anchor="middle" fill="#262626">0.5</text>
<line x1="284.40" y1="672.00" x2="289.00" y2="672.00" stroke="#111" stroke-width="2.2"/>
<text x="280.60" y="677.31" font-size="14" text-anchor="end" fill="#262626">1</text>
<line x1="366.85" y1="740.00" x2="366.85" y2="744.60" stroke="#111" stroke-width="2.2"/>
<text x="367.05" y="762.02" font-size="14" text-anchor="middle" fill="#262626">1</text>
<line x1="284.40" y1="638.00" x2="289.00" y2="638.00" stroke="#111" stroke-width="2.2"/>
<text x="280.60" y="643.31" font-size="14" text-anchor="end" fill="#262626">1.5</text>
<line x1="405.77" y1="740.00" x2="405.77" y2="744.60" stroke="#111" stroke-width="2.2"/>
<text x="405.97" y="762.02" font-size="14" text-anchor="middle" fill="#262626">1.5</text>
<line x1="284.40" y1="604.00" x2="289.00" y2="604.00" stroke="#111" stroke-width="2.2"/>
<text x="280.60" y="609.31" font-size="14" text-anchor="end" fill="#262626">2</text>
<line x1="444.70" y1="740.00" x2="444.70" y2="744.60" stroke="#111" stroke-width="2.2"/>
<text x="444.90" y="762.02" font-size="14" text-anchor="middle" fill="#262626">2</text>
<text x="250.00" y="671.60" font-size="14" text-anchor="middle" font-weight="bold" transform="rotate(-90 250.00 671.60)" fill="#111">ML Predictions (eV)</text>
<text x="368.85" y="784.30" font-size="14" text-anchor="middle" font-weight="bold" fill="#111">DFT (eV)</text>
<use href="#pl" x="315.8" y="693.7"/>
<use href="#pl" x="331.2" y="691.4"/>
<use href="#pl" x="331.9" y="696.2"/>
<use href="#pl" x="334.1" y="694.0"/>
<use href="#pl" x="339.9" y="692.6"/>
<use href="#pl" x="343.6" y="688.9"/>
<use href="#pl" x="359.8" y="656.2"/>
<use href="#pl" x="383.9" y="647.0"/>
<use href="#pl" x="394.0" y="648.3"/>
<use href="#pl" x="396.2" y="650.5"/>
<use href="#pl" x="397.0" y="654.0"/>
<use href="#pl" x="398.8" y="651.8"/>
<use href="#pl" x="406.2" y="651.8"/>
<use href="#pl" x="406.2" y="656.2"/>
<use href="#pl" x="380.0" y="654.0"/>
<use href="#pl" x="387.0" y="654.0"/>
<use href="#pl" x="376.0" y="658.4"/>
<use href="#pl" x="378.5" y="657.0"/>
<use href="#pl" x="390.5" y="661.9"/>
<use href="#pl" x="392.0" y="661.0"/>
<use href="#pl" x="390.0" y="669.8"/>
<use href="#pl" x="363.3" y="687.4"/>
<use href="#pl" x="355.3" y="687.4"/>
<use href="#pl" x="343.5" y="675.5"/>
<use href="#pl" x="348.0" y="674.0"/>
<use href="#pl" x="355.0" y="673.5"/>
<use href="#pl" x="362.5" y="690.0"/>
<use href="#pl" x="349.0" y="688.5"/>
<use href="#pl" x="384.8" y="657.7"/>
<use href="#pl" x="380.7" y="658.7"/>
<use href="#pl" x="381.9" y="659.8"/>
<use href="#pl" x="387.7" y="660.3"/>
<use href="#pl" x="363.0" y="662.8"/>
<use href="#pl" x="378.8" y="660.8"/>
<use href="#pl" x="381.0" y="662.7"/>
<use href="#pl" x="384.4" y="661.4"/>
<use href="#pl" x="388.8" y="661.6"/>
<use href="#pl" x="359.6" y="666.0"/>
<use href="#pl" x="363.2" y="665.6"/>
<use href="#pl" x="364.3" y="665.8"/>
<use href="#pl" x="376.0" y="664.2"/>
<use href="#pl" x="379.5" y="664.3"/>
<use href="#pl" x="382.9" y="663.6"/>
<use href="#pl" x="387.3" y="665.9"/>
<use href="#pl" x="361.4" y="667.0"/>
<use href="#pl" x="364.3" y="666.5"/>
<use href="#pl" x="367.5" y="668.8"/>
<use href="#pl" x="375.4" y="667.3"/>
<use href="#pl" x="377.9" y="667.7"/>
<use href="#pl" x="382.4" y="668.3"/>
<use href="#pl" x="385.2" y="667.1"/>
<use href="#pl" x="361.3" y="670.6"/>
<use href="#pl" x="365.0" y="669.9"/>
<use href="#pl" x="368.1" y="670.3"/>
<use href="#pl" x="372.0" y="670.0"/>
<use href="#pl" x="374.8" y="671.3"/>
<use href="#pl" x="379.4" y="670.8"/>
<use href="#pl" x="381.8" y="670.7"/>
<use href="#pl" x="387.5" y="669.3"/>
<use href="#pl" x="359.7" y="672.8"/>
<use href="#pl" x="364.1" y="672.7"/>
<use href="#pl" x="366.1" y="672.1"/>
<use href="#pl" x="370.4" y="674.6"/>
<use href="#pl" x="373.1" y="672.2"/>
<use href="#pl" x="378.5" y="674.6"/>
<use href="#pl" x="382.3" y="672.3"/>
<use href="#pl" x="384.5" y="672.8"/>
<use href="#pl" x="346.8" y="676.3"/>
<use href="#pl" x="352.4" y="677.1"/>
<use href="#pl" x="355.8" y="677.3"/>
<use href="#pl" x="357.3" y="675.3"/>
<use href="#pl" x="361.1" y="677.0"/>
<use href="#pl" x="365.1" y="675.8"/>
<use href="#pl" x="370.2" y="675.8"/>
<use href="#pl" x="371.5" y="675.6"/>
<use href="#pl" x="375.9" y="677.2"/>
<use href="#pl" x="380.6" y="676.6"/>
<use href="#pl" x="382.6" y="676.5"/>
<use href="#pl" x="343.3" y="679.8"/>
<use href="#pl" x="345.0" y="677.7"/>
<use href="#pl" x="350.3" y="679.6"/>
<use href="#pl" x="352.2" y="679.7"/>
<use href="#pl" x="357.6" y="679.8"/>
<use href="#pl" x="360.4" y="678.5"/>
<use href="#pl" x="362.5" y="678.8"/>
<use href="#pl" x="367.0" y="679.4"/>
<use href="#pl" x="370.9" y="678.4"/>
<use href="#pl" x="375.5" y="678.7"/>
<use href="#pl" x="376.9" y="677.7"/>
<use href="#pl" x="344.7" y="681.8"/>
<use href="#pl" x="347.4" y="682.6"/>
<use href="#pl" x="352.5" y="681.2"/>
<use href="#pl" x="355.6" y="681.8"/>
<use href="#pl" x="358.3" y="682.3"/>
<use href="#pl" x="362.7" y="681.9"/>
<use href="#pl" x="365.0" y="681.2"/>
<use href="#pl" x="367.8" y="681.9"/>
<use href="#pl" x="348.5" y="685.6"/>
<use href="#pl" x="354.1" y="684.3"/>
<use href="#pl" x="357.6" y="685.1"/>
<use href="#pl" x="359.3" y="684.6"/>
<use href="#pl" x="362.5" y="685.2"/>
<line x1="523.40" y1="602.40" x2="523.40" y2="744.40" stroke="#111" stroke-width="2.2"/>
<line x1="518.80" y1="739.80" x2="682.70" y2="739.80" stroke="#111" stroke-width="2.2"/>
<line x1="518.80" y1="739.80" x2="523.40" y2="739.80" stroke="#111" stroke-width="2.2"/>
<text x="515.00" y="745.11" font-size="14" text-anchor="end" fill="#262626">0</text>
<line x1="523.40" y1="739.80" x2="523.40" y2="744.40" stroke="#111" stroke-width="2.2"/>
<text x="523.60" y="761.82" font-size="14" text-anchor="middle" fill="#262626">0</text>
<line x1="518.80" y1="705.72" x2="523.40" y2="705.72" stroke="#111" stroke-width="2.2"/>
<text x="515.00" y="711.04" font-size="14" text-anchor="end" fill="#262626">0.5</text>
<line x1="562.95" y1="739.80" x2="562.95" y2="744.40" stroke="#111" stroke-width="2.2"/>
<text x="563.15" y="761.82" font-size="14" text-anchor="middle" fill="#262626">0.5</text>
<line x1="518.80" y1="671.65" x2="523.40" y2="671.65" stroke="#111" stroke-width="2.2"/>
<text x="515.00" y="676.96" font-size="14" text-anchor="end" fill="#262626">1</text>
<line x1="602.50" y1="739.80" x2="602.50" y2="744.40" stroke="#111" stroke-width="2.2"/>
<text x="602.70" y="761.82" font-size="14" text-anchor="middle" fill="#262626">1</text>
<line x1="518.80" y1="637.58" x2="523.40" y2="637.58" stroke="#111" stroke-width="2.2"/>
<text x="515.00" y="642.89" font-size="14" text-anchor="end" fill="#262626">1.5</text>
<line x1="642.05" y1="739.80" x2="642.05" y2="744.40" stroke="#111" stroke-width="2.2"/>
<text x="642.25" y="761.82" font-size="14" text-anchor="middle" fill="#262626">1.5</text>
<line x1="518.80" y1="603.50" x2="523.40" y2="603.50" stroke="#111" stroke-width="2.2"/>
<text x="515.00" y="608.81" font-size="14" text-anchor="end" fill="#262626">2</text>
<line x1="681.60" y1="739.80" x2="681.60" y2="744.40" stroke="#111" stroke-width="2.2"/>
<text x="681.80" y="761.82" font-size="14" text-anchor="middle" fill="#262626">2</text>
<text x="488.00" y="671.60" font-size="14" text-anchor="middle" font-weight="bold" transform="rotate(-90 488.00 671.60)" fill="#111">ML Predictions (eV)</text>
<text x="600.30" y="784.10" font-size="14" text-anchor="middle" font-weight="bold" fill="#111">DFT (eV)</text>
<use href="#pl" x="551.6" y="703.5"/>
<use href="#pl" x="566.9" y="698.4"/>
<use href="#pl" x="568.4" y="704.2"/>
<use href="#pl" x="575.7" y="696.2"/>
<use href="#pl" x="579.3" y="696.2"/>
<use href="#pl" x="600.5" y="650.2"/>
<use href="#pl" x="595.4" y="656.8"/>
<use href="#pl" x="619.5" y="652.4"/>
<use href="#pl" x="620.9" y="656.1"/>
<use href="#pl" x="631.1" y="648.8"/>
<use href="#pl" x="632.6" y="653.1"/>
<use href="#pl" x="633.3" y="659.7"/>
<use href="#pl" x="642.1" y="651.7"/>
<use href="#pl" x="628.9" y="664.1"/>
<use href="#pl" x="599.0" y="688.2"/>
<use href="#pl" x="591.7" y="694.0"/>
<use href="#pl" x="585.1" y="694.7"/>
<use href="#pl" x="579.3" y="680.1"/>
<use href="#pl" x="623.2" y="658.4"/>
<use href="#pl" x="610.1" y="660.4"/>
<use href="#pl" x="613.3" y="660.8"/>
<use href="#pl" x="617.2" y="660.6"/>
<use href="#pl" x="620.9" y="661.2"/>
<use href="#pl" x="624.6" y="659.4"/>
<use href="#pl" x="600.8" y="664.1"/>
<use href="#pl" x="604.4" y="663.5"/>
<use href="#pl" x="609.1" y="663.1"/>
<use href="#pl" x="611.1" y="662.3"/>
<use href="#pl" x="615.4" y="662.7"/>
<use href="#pl" x="618.5" y="662.0"/>
<use href="#pl" x="622.3" y="663.1"/>
<use href="#pl" x="624.2" y="662.6"/>
<use href="#pl" x="600.2" y="664.8"/>
<use href="#pl" x="603.8" y="665.1"/>
<use href="#pl" x="606.2" y="665.1"/>
<use href="#pl" x="610.6" y="665.4"/>
<use href="#pl" x="613.4" y="666.8"/>
<use href="#pl" x="617.7" y="665.0"/>
<use href="#pl" x="621.2" y="665.3"/>
<use href="#pl" x="593.6" y="668.6"/>
<use href="#pl" x="598.0" y="668.3"/>
<use href="#pl" x="601.7" y="669.0"/>
<use href="#pl" x="605.5" y="668.6"/>
<use href="#pl" x="608.3" y="668.8"/>
<use href="#pl" x="610.4" y="669.5"/>
<use href="#pl" x="615.3" y="669.5"/>
<use href="#pl" x="618.3" y="667.7"/>
<use href="#pl" x="621.5" y="668.4"/>
<use href="#pl" x="589.3" y="672.0"/>
<use href="#pl" x="593.0" y="670.5"/>
<use href="#pl" x="595.4" y="670.4"/>
<use href="#pl" x="600.2" y="671.0"/>
<use href="#pl" x="603.7" y="670.4"/>
<use href="#pl" x="606.4" y="672.6"/>
<use href="#pl" x="610.9" y="671.8"/>
<use href="#pl" x="612.9" y="670.7"/>
<use href="#pl" x="616.8" y="672.3"/>
<use href="#pl" x="585.8" y="674.8"/>
<use href="#pl" x="590.8" y="673.5"/>
<use href="#pl" x="593.4" y="673.6"/>
<use href="#pl" x="597.7" y="673.4"/>
<use href="#pl" x="601.7" y="674.2"/>
<use href="#pl" x="604.9" y="675.4"/>
<use href="#pl" x="608.6" y="675.5"/>
<use href="#pl" x="610.9" y="674.0"/>
<use href="#pl" x="585.7" y="676.0"/>
<use href="#pl" x="587.8" y="676.7"/>
<use href="#pl" x="593.5" y="676.0"/>
<use href="#pl" x="594.7" y="677.5"/>
<use href="#pl" x="599.6" y="678.0"/>
<use href="#pl" x="604.0" y="678.0"/>
<use href="#pl" x="605.8" y="676.0"/>
<use href="#pl" x="609.4" y="676.8"/>
<use href="#pl" x="586.5" y="679.7"/>
<use href="#pl" x="589.5" y="679.2"/>
<use href="#pl" x="593.1" y="679.5"/>
<use href="#pl" x="597.0" y="679.7"/>
<use href="#pl" x="602.2" y="679.0"/>
<use href="#pl" x="603.4" y="679.0"/>
<use href="#pl" x="607.5" y="679.0"/>
<use href="#pl" x="586.4" y="683.4"/>
<use href="#pl" x="588.5" y="681.9"/>
<use href="#pl" x="593.5" y="682.6"/>
<use href="#pl" x="595.7" y="683.3"/>
<use href="#pl" x="598.2" y="683.9"/>
<use href="#pl" x="584.0" y="685.1"/>
<use href="#pl" x="586.3" y="686.2"/>
<use href="#pl" x="589.8" y="684.9"/>
<use href="#pl" x="594.6" y="684.5"/>
<use href="#pl" x="581.4" y="687.2"/>
<use href="#pl" x="585.9" y="688.6"/>
<use href="#pl" x="589.6" y="688.3"/>
<use href="#pl" x="591.7" y="688.0"/>
<text x="-0.70" y="11.60" font-size="20" text-anchor="start" font-weight="bold" fill="#111">a</text>
<text x="-0.20" y="188.90" font-size="20" text-anchor="start" font-weight="bold" fill="#111">b</text>
<text x="0.40" y="410.40" font-size="20" text-anchor="start" font-weight="bold" fill="#111">c</text>
<text x="0.20" y="596.90" font-size="20" text-anchor="start" font-weight="bold" fill="#111">d</text>
<text x="129.90" y="811.80" font-size="21.5" text-anchor="middle" fill="#262626">VCN</text>
<text x="369.10" y="811.80" font-size="21.5" text-anchor="middle" fill="#262626">RCN</text>
<text x="600.90" y="811.80" font-size="21.5" text-anchor="middle" fill="#262626">CCN</text>
</svg>
</body></html>
